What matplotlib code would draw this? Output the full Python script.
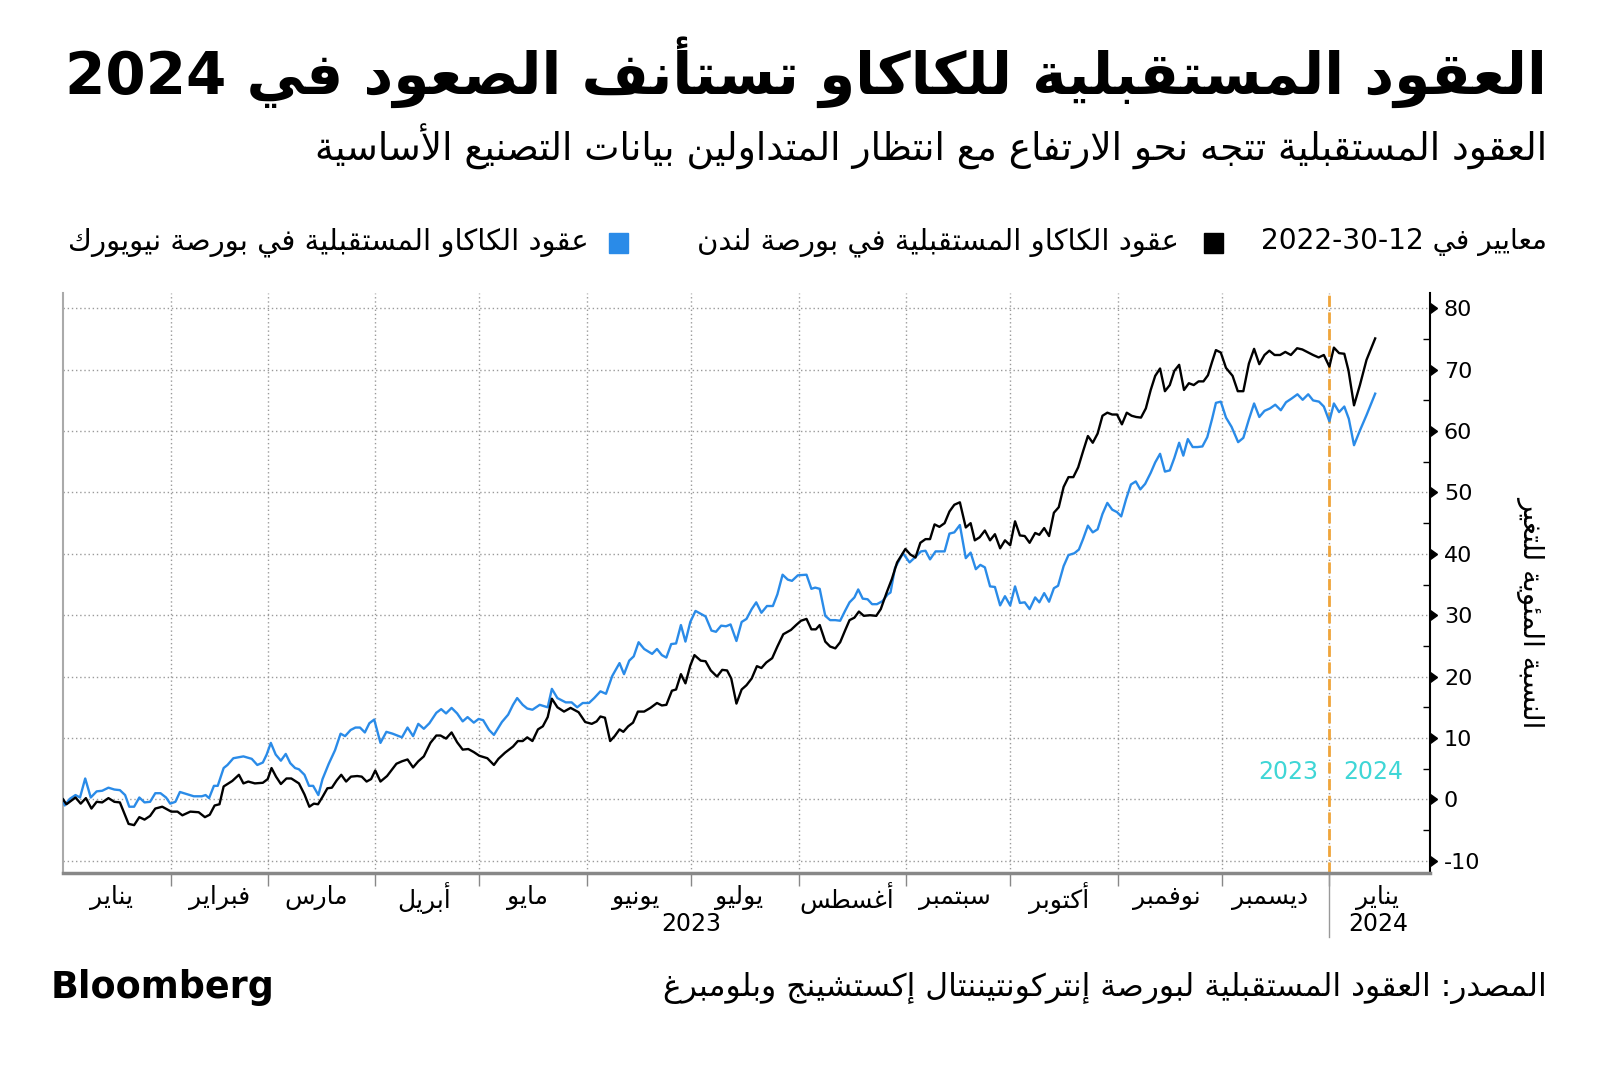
import re
import pandas as pd
import matplotlib
matplotlib.use("Agg")
import matplotlib.pyplot as plt
from matplotlib.patches import Rectangle
from matplotlib.ticker import MultipleLocator

# -------- text --------
TITLE = "العقود المستقبلية للكاكاو تستأنف الصعود في 2024"
SUBTITLE = "العقود المستقبلية تتجه نحو الارتفاع مع انتظار المتداولين بيانات التصنيع الأساسية"
LEG_HEAD = "معايير في 2022-30-12"
LEG_LDN = "عقود الكاكاو المستقبلية في بورصة لندن"
LEG_NY = "عقود الكاكاو المستقبلية في بورصة نيويورك"
YLABEL = "النسبة المئوية للتغير"
SOURCE = "المصدر: العقود المستقبلية لبورصة إنتركونتيننتال إكستشينج وبلومبرغ"
MONTHS = ["يناير", "فبراير", "مارس", "أبريل", "مايو", "يونيو", "يوليو",
          "أغسطس", "سبتمبر", "أكتوبر", "نوفمبر", "ديسمبر", "يناير"]
YEARS = ["2023", "2024"]

# -------- data: days since 2023-01-01, % change --------
START = "2023-01-01"
LDN_DAYS = [0, 1.0, 3.6, 5.1, 6.6, 8.2, 9.7, 11.3, 13.1, 14.8, 16.4, 18.9, 20.5, 22.0, 23.5, 25.1, 26.6, 28.6,
            31.2, 33.0, 34.4, 36.7, 39.1, 40.9, 42.3, 43.7, 45.1, 46.3, 48.8, 50.7, 52.0, 53.4, 55.3, 57.6,
            59.0, 60.1, 61.4, 62.8, 64.4, 65.8, 68.0, 69.6, 71.0, 72.3, 73.5, 74.8, 76.2, 77.5, 78.9, 80.2,
            81.6, 83.0, 84.8, 86.1, 87.5, 88.8, 90.0, 91.5, 93.4, 96.1, 97.7, 99.3, 100.9, 102.4, 104.0,
            105.9, 107.6, 108.8, 110.4, 112.0, 113.6, 115.2, 116.8, 118.4, 120.0, 122.3, 124.2, 125.5,
            127.4, 129.7, 131.1, 132.5, 133.8,
            135.3, 136.9, 138.3, 139.7, 140.9, 142.5, 144.4, 146.3, 148.6, 150.5, 152.4, 153.8, 154.9,
            156.2, 157.7, 159.0, 160.4, 161.5, 162.9, 164.3, 165.7, 167.5, 169.3, 171.2, 172.6, 173.9,
            175.5, 176.7, 178.1, 179.4, 180.8, 182.0, 183.8, 185.2, 186.7, 188.5, 190.0, 191.4, 192.6,
            194.1, 195.6, 197.0, 198.5, 200.0, 201.3, 202.7, 204.4, 205.9, 207.6, 209.8, 211.3, 212.7,
            214.3, 215.7, 217.0, 218.1, 219.7, 221.1, 222.6, 224.0, 225.4, 226.7, 228.1, 229.4, 230.8,
            232.6, 234.4, 235.7, 237.4, 238.9, 240.4, 242.8, 244.2, 245.7, 247.1, 248.6, 249.9, 251.2,
            252.6, 254.1, 255.5, 256.9,
            258.5, 260.2, 261.6, 262.8, 264.2, 265.7, 267.2, 268.6, 270.1, 271.5, 273.0, 274.4, 275.8,
            277.2, 278.6, 280.2, 281.4, 282.8, 284.2, 285.6, 287.0, 288.4, 289.8, 291.2, 292.6, 294.0,
            295.4, 296.8, 298.2, 299.6, 301.0, 302.4, 303.8, 305.2, 306.6, 308.0, 309.3, 310.7, 312.1,
            313.5, 314.8, 316.2, 317.6, 319.0, 320.3, 321.7, 323.1, 324.5, 325.9, 327.3, 328.7, 330.0,
            331.2, 332.3, 333.7, 335.2, 337.1, 338.6, 340.2, 341.8, 343.3, 344.8, 346.3, 347.7, 349.2,
            350.8, 352.3, 353.9, 355.7, 357.2, 358.9, 360.3, 361.9, 363.4, 365.0, 366.3, 367.8, 369.3,
            370.5, 372.1, 373.8, 375.7, 378.2]
LDN_VALS = [0, -0.8, 0.3, -0.7, 0.2, -1.5, -0.4, -0.5, 0.2, -0.4, -0.5, -4.0, -4.2, -2.9, -3.3, -2.7, -1.5, -1.2,
            -2.0, -2.0, -2.6, -2.0, -2.1, -2.9, -2.5, -1.0, -0.8, 2.1, 3.0, 4.0, 2.6, 2.9, 2.6, 2.7,
            3.3, 5.1, 3.7, 2.5, 3.4, 3.4, 2.6, 0.8, -1.2, -0.7, -0.8, 0.4, 1.8, 1.9, 3.1, 4.0,
            2.9, 3.7, 3.8, 3.7, 2.9, 3.3, 4.7, 2.9, 3.8, 5.8, 6.2, 6.5, 5.2, 6.2, 7.0,
            9.2, 10.4, 10.4, 9.9, 10.9, 9.3, 8.1, 8.2, 7.7, 7.1, 6.7, 5.6, 6.6,
            7.6, 8.6, 9.5, 9.5, 10.1,
            9.5, 11.4, 11.9, 13.4, 16.4, 15.0, 14.3, 14.9, 14.2, 12.6, 12.3, 12.7, 13.5,
            13.3, 9.5, 10.3, 11.4, 11.0, 11.9, 12.5, 14.3, 14.3, 14.9, 15.7, 15.3, 15.4,
            17.7, 17.9, 20.4, 18.9, 21.8, 23.5, 22.6, 22.5, 21.0, 20.0, 21.1, 21.0, 19.7,
            15.6, 17.9, 18.6, 19.7, 21.7, 21.4, 22.3, 23.0, 24.9, 26.9, 27.6, 28.4, 29.1,
            29.4, 27.7, 27.7, 28.4, 25.7, 24.9, 24.6, 25.6, 27.5, 29.2, 29.6, 30.6, 29.9,
            30.0, 29.9, 31.0, 33.7, 35.9, 38.6, 40.8, 39.9, 39.4, 41.8, 42.4, 42.4, 44.8,
            44.4, 45.0, 46.9, 48.0,
            48.4, 44.3, 45.0, 42.2, 42.7, 43.8, 42.2, 43.2, 40.9, 42.2, 41.4, 45.3, 43.0,
            42.9, 41.8, 43.4, 43.1, 44.2, 42.9, 46.7, 47.6, 50.9, 52.5, 52.5, 54.1, 56.7,
            59.2, 58.1, 59.6, 62.5, 63.0, 62.7, 62.7, 61.1, 63.0, 62.5, 62.3, 62.2, 63.7,
            66.7, 69.0, 70.2, 66.5, 67.5, 69.8, 70.8, 66.7, 67.8, 67.5, 68.1, 68.1, 69.1,
            71.3, 73.2, 72.8, 70.3, 69.0, 66.5, 66.5, 71.0, 73.4, 70.9, 72.4, 73.1, 72.4,
            72.4, 72.9, 72.4, 73.5, 73.3, 72.8, 72.4, 72.0, 72.4, 70.5, 73.6, 72.7, 72.6,
            69.9, 64.2, 67.5, 71.6, 75.1]

NY_DAYS = [0, 0.5, 2.0, 3.6, 4.9, 6.4, 8.0, 9.7, 11.3, 13.1, 14.8, 16.4, 17.9, 19.1, 20.5, 22.0, 23.5, 25.1,
           26.6, 28.1, 29.7, 30.9, 32.4, 33.7, 35.4, 37.7, 40.0, 41.1, 42.1, 43.5, 44.6, 46.3, 47.4, 49.1,
           52.0, 54.4, 56.0, 57.6, 58.7, 59.9, 61.3, 62.8, 64.2, 65.5, 66.9, 68.0, 69.6, 70.9, 72.1, 73.6,
           74.8, 76.6, 78.4, 80.0, 81.3, 82.9, 84.3, 85.6, 87.0, 88.3, 89.7, 91.5, 93.2, 95.0, 97.7, 99.3,
           100.9, 102.4, 104.0, 105.6, 107.6, 109.0, 110.4, 112.0, 113.6, 115.2, 116.6, 118.4, 119.8,
           121.1, 122.8, 124.2, 126.5, 128.3, 129.7, 130.9, 132.5, 133.8,
           135.3, 137.4, 139.7, 140.9, 142.5, 144.9, 146.6, 148.2, 149.8, 151.6, 153.1, 154.9, 156.5,
           158.3, 160.4, 161.7, 163.2, 164.5, 165.9, 167.5, 169.8, 171.2, 172.6, 173.9, 175.3, 176.7,
           178.1, 179.4, 180.8, 182.3, 185.2, 186.9, 188.2, 189.7, 191.1, 192.4, 194.1, 195.6, 197.0,
           198.5, 199.8, 201.3, 202.9, 204.6, 205.9, 207.4, 208.9, 210.1, 211.8, 214.3, 215.7, 216.8,
           218.1, 219.7, 221.1, 222.6, 224.0, 225.4, 226.7, 228.1, 229.2, 230.5, 231.9, 233.2, 234.6,
           236.2, 237.7, 238.5, 239.8, 242.1, 244.0, 245.7, 247.3, 248.6, 249.9, 251.5, 254.1, 255.5,
           256.9,
           258.5, 260.2, 261.6, 263.1, 264.4, 265.7, 267.2, 268.6, 270.1, 271.5, 273.0, 274.4, 275.8,
           277.2, 278.6, 280.2, 281.4, 282.8, 284.2, 285.6, 286.8, 288.4, 289.8, 291.5, 292.8, 294.0,
           295.4, 296.8, 298.2, 299.6, 301.0, 302.4, 303.8, 305.0, 306.4, 307.8, 309.2, 310.5, 311.9,
           313.5, 314.8, 316.2, 317.6, 319.0, 320.3, 321.7, 322.9, 324.2, 325.6, 327.0, 328.4, 329.8,
           331.2, 332.3, 333.7, 335.2, 336.8, 338.7, 340.2, 341.8, 343.3, 344.8, 346.3, 347.9, 349.4,
           351.0, 352.5, 354.1, 355.8, 357.3, 358.9, 360.3, 362.0, 363.4, 365.0, 366.3, 367.8, 369.3,
           370.6, 372.1, 373.8, 375.7, 378.2]
NY_VALS = [0, -1.0, 0.1, 0.7, 0.3, 3.4, 0.3, 1.3, 1.4, 1.9, 1.6, 1.5, 0.7, -1.2, -1.2, 0.3, -0.5, -0.4,
           1.0, 1.0, 0.3, -0.7, -0.4, 1.2, 0.9, 0.5, 0.5, 0.7, 0.2, 2.2, 2.2, 5.1, 5.6, 6.7,
           7.0, 6.6, 5.6, 6.0, 7.3, 9.2, 7.3, 6.3, 7.4, 5.9, 5.1, 4.9, 4.0, 2.2, 2.2, 0.7,
           3.3, 5.8, 8.0, 10.7, 10.3, 11.3, 11.7, 11.7, 10.9, 12.4, 13.0, 9.2, 11.0, 10.7, 10.1, 11.7,
           10.3, 12.3, 11.5, 12.4, 14.1, 14.7, 14.0, 14.9, 14.0, 12.7, 13.4, 12.5, 13.1,
           12.9, 11.3, 10.5, 12.6, 13.8, 15.4, 16.5, 15.4, 14.8,
           14.6, 15.4, 15.0, 18.0, 16.5, 15.8, 15.8, 15.0, 15.7, 15.7, 16.5, 17.6, 17.2,
           20.1, 22.2, 20.4, 22.6, 23.3, 25.6, 24.5, 23.7, 24.5, 23.5, 23.1, 25.3, 25.4,
           28.4, 25.7, 28.9, 30.7, 29.8, 27.5, 27.3, 28.3, 28.2, 28.5, 25.8, 28.9, 29.4,
           31.0, 32.1, 30.4, 31.5, 31.5, 33.4, 36.6, 35.8, 35.6, 36.5, 36.6, 34.3, 34.5,
           34.3, 29.9, 29.2, 29.2, 29.1, 30.7, 32.1, 32.9, 34.2, 32.7, 32.6, 31.8, 31.8,
           32.3, 33.4, 33.7, 37.7, 40.1, 38.6, 39.5, 40.4, 40.5, 39.1, 40.4, 40.4, 43.3,
           43.5,
           44.7, 39.3, 40.2, 37.5, 38.2, 37.8, 34.7, 34.6, 31.6, 33.1, 31.6, 34.7, 32.0,
           32.1, 31.0, 32.9, 32.1, 33.6, 32.2, 34.4, 34.8, 38.0, 39.8, 40.1, 40.7, 42.4,
           44.6, 43.5, 44.0, 46.5, 48.3, 47.2, 46.8, 46.1, 48.9, 51.3, 51.8, 50.5, 51.4,
           53.2, 54.9, 56.3, 53.4, 53.6, 55.6, 58.1, 56.0, 58.7, 57.4, 57.4, 57.5, 59.0,
           62.0, 64.6, 64.8, 62.2, 60.7, 58.2, 58.9, 61.9, 64.5, 62.3, 63.3, 63.7, 64.3,
           63.4, 64.7, 65.3, 66.0, 65.1, 66.0, 65.0, 64.8, 64.0, 61.6, 64.5, 63.1, 64.0,
           62.0, 57.7, 60.1, 62.6, 66.1]

# ---- Arabic shaping (matplotlib has no RTL layout) ----
AR_FORMS = {
    'ء': (0xFE80, 1), 'آ': (0xFE81, 2), 'أ': (0xFE83, 2), 'ؤ': (0xFE85, 2), 'إ': (0xFE87, 2),
    'ئ': (0xFE89, 4), 'ا': (0xFE8D, 2), 'ب': (0xFE8F, 4), 'ة': (0xFE93, 2), 'ت': (0xFE95, 4),
    'ث': (0xFE99, 4), 'ج': (0xFE9D, 4), 'ح': (0xFEA1, 4), 'خ': (0xFEA5, 4), 'د': (0xFEA9, 2),
    'ذ': (0xFEAB, 2), 'ر': (0xFEAD, 2), 'ز': (0xFEAF, 2), 'س': (0xFEB1, 4), 'ش': (0xFEB5, 4),
    'ص': (0xFEB9, 4), 'ض': (0xFEBD, 4), 'ط': (0xFEC1, 4), 'ظ': (0xFEC5, 4), 'ع': (0xFEC9, 4),
    'غ': (0xFECD, 4), 'ف': (0xFED1, 4), 'ق': (0xFED5, 4), 'ك': (0xFED9, 4), 'ل': (0xFEDD, 4),
    'م': (0xFEE1, 4), 'ن': (0xFEE5, 4), 'ه': (0xFEE9, 4), 'و': (0xFEED, 2), 'ى': (0xFEEF, 2),
    'ي': (0xFEF1, 4),
}
LAM_ALEF = {'آ': 0xFEF5, 'أ': 0xFEF7, 'إ': 0xFEF9, 'ا': 0xFEFB}


def ar(text):
    units = []
    i = 0
    while i < len(text):
        c = text[i]
        if c == 'ل' and i + 1 < len(text) and text[i + 1] in LAM_ALEF:
            units.append((LAM_ALEF[text[i + 1]], 2))
            i += 2
            continue
        units.append(AR_FORMS.get(c, (c, 0)))
        i += 1
    out = []
    for k, (code, n) in enumerate(units):
        if n == 0:
            out.append(code)
            continue
        prev_n = units[k - 1][1] if k > 0 else 0
        next_n = units[k + 1][1] if k + 1 < len(units) else 0
        jp = prev_n == 4 and n >= 2
        jn = n == 4 and next_n >= 2
        form = 3 if (jp and jn) else 1 if jp else 2 if jn else 0
        out.append(chr(code + form))
    vis = ''.join(out)[::-1]
    # numbers keep left-to-right order
    return re.sub(r'[0-9A-Za-z][0-9A-Za-z\-\.]*', lambda m: m.group(0)[::-1], vis)


plt.rcParams['font.family'] = ['DejaVu Sans']
plt.rcParams['axes.unicode_minus'] = False

W, H = 1600, 1067
fig = plt.figure(figsize=(W / 100, H / 100), dpi=100)
renderer = fig.canvas.get_renderer()


def fig_text(x, y, s, size, max_w=None, **kw):
    # x, y in pixels from top-left
    t = fig.text(x / W, 1 - y / H, s, fontsize=size, **kw)
    if max_w:
        w = t.get_window_extent(renderer=renderer).width
        if w > max_w:
            t.set_fontsize(size * max_w / w)
    return t


fig_text(1547, 72, ar(TITLE), 42, max_w=1482, ha='right', va='center', fontweight='bold')
fig_text(1547, 147, ar(SUBTITLE), 27, max_w=1245, ha='right', va='center')

# legend row
fig_text(1547, 242, ar(LEG_HEAD), 21, max_w=285, ha='right', va='center')
fig.add_artist(Rectangle((1204 / W, 1 - 253 / H), 19 / W, 20 / H, color='black', transform=fig.transFigure))
fig_text(1179, 242, ar(LEG_LDN), 21, max_w=506, ha='right', va='center')
fig.add_artist(Rectangle((609 / W, 1 - 253 / H), 19 / W, 20 / H, color='#2a8be8', transform=fig.transFigure))
fig_text(589, 242, ar(LEG_NY), 21, max_w=548, ha='right', va='center')

# ---- chart ----
ax = fig.add_axes([63 / W, 1 - 873 / H, (1430 - 63) / W, (873 - 293) / H])
start = pd.Timestamp(START)
ldn_x = start + pd.to_timedelta(LDN_DAYS, unit='D')
ny_x = start + pd.to_timedelta(NY_DAYS, unit='D')

ax.plot(ldn_x, LDN_VALS, color='black', lw=1.7, zorder=4)
ax.plot(ny_x, NY_VALS, color='#2a8be8', lw=1.7, zorder=3)

jan24 = pd.Timestamp('2024-01-01')
ax.axvline(jan24, color='#f0a53a', lw=2, ls=(0, (4, 2)), zorder=2)

ax.set_xlim(start, pd.Timestamp('2024-01-30'))
ax.set_ylim(-12, 82.5)

month_starts = pd.date_range('2023-02-01', '2024-01-01', freq='MS')
month_mid = pd.date_range('2023-01-01', '2024-01-01', freq='MS') + pd.Timedelta(days=14)
ax.set_xticks(month_starts)
ax.set_xticklabels([])
ax.set_xticks(month_mid, labels=[ar(m) for m in MONTHS], minor=True)
ax.tick_params(axis='x', which='major', length=9, color='#888888', width=1, direction='out')
ax.tick_params(axis='x', which='minor', length=0, pad=18, labelsize=18)
for lbl in ax.get_xticklabels(minor=True):
    lbl.set_verticalalignment('center')

ax.set_yticks(range(-10, 81, 10))
ax.yaxis.set_minor_locator(MultipleLocator(5))
ax.yaxis.tick_right()
ax.tick_params(axis='y', which='major', length=0, pad=10, labelsize=16)
ax.tick_params(axis='y', which='minor', length=5, direction='in', right=True, left=False, width=1)
# triangle markers for major ticks
ax.plot([1] * 10, list(range(-10, 81, 10)), ls='none', marker=9, ms=7, color='black',
        transform=ax.get_yaxis_transform(), clip_on=False, zorder=5)

ax.grid(True, which='major', color='#9a9a9a', lw=1, ls=(0, (1, 2)))

ax.spines['top'].set_visible(False)
ax.spines['left'].set_color('#aaaaaa')
ax.spines['left'].set_linewidth(1.5)
ax.spines['bottom'].set_color('#888888')
ax.spines['bottom'].set_linewidth(2.5)
ax.spines['right'].set_color('black')
ax.spines['right'].set_linewidth(1.5)

# year labels under the months
ax.text(pd.Timestamp('2023-07-01'), -0.088, YEARS[0], transform=ax.get_xaxis_transform(),
        ha='center', va='center', fontsize=17)
ax.text(pd.Timestamp('2024-01-15'), -0.088, YEARS[1], transform=ax.get_xaxis_transform(),
        ha='center', va='center', fontsize=17)
ax.plot([jan24, jan24], [0, -0.11], color='#999999', lw=1, transform=ax.get_xaxis_transform(),
        clip_on=False)

# year markers around the dashed line
ax.annotate(YEARS[0], xy=(jan24, 4.5), xytext=(-8, 0), textcoords='offset points',
            ha='right', va='center', fontsize=17, color='#3fd6d6')
ax.annotate(YEARS[1], xy=(jan24, 4.5), xytext=(10, 0), textcoords='offset points',
            ha='left', va='center', fontsize=17, color='#3fd6d6')

# y label
fig_text(1531, 612, ar(YLABEL), 20, ha='center', va='center', rotation=270)

# footer
fig_text(51, 988, "Bloomberg", 27, max_w=224, ha='left', va='center', fontweight='bold')
fig_text(1547, 988, ar(SOURCE), 23, max_w=884, ha='right', va='center')

fig.savefig("out.png", dpi=100)
